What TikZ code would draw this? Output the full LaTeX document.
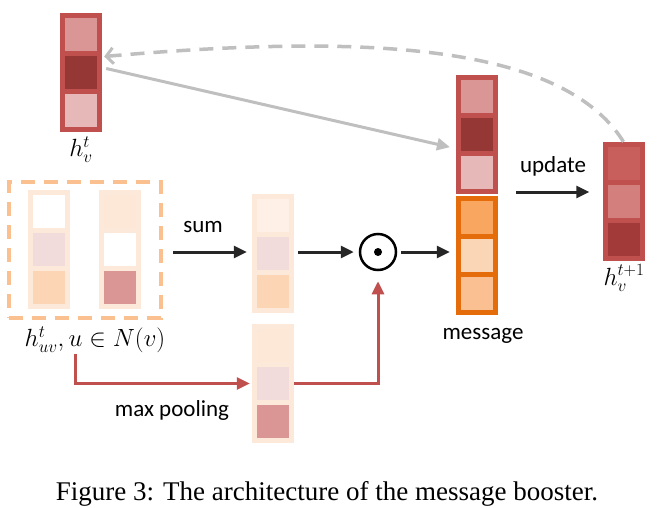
\documentclass[tikz,border=0pt]{standalone}
\usepackage[no-math]{fontspec}
\setmainfont{Liberation Serif}
\newfontfamily\lblfont{Carlito}
\usetikzlibrary{arrows.meta,calc}
\definecolor{redframe}{HTML}{C0504D}
\definecolor{orframe}{HTML}{E46C0A}
\definecolor{lightframe}{HTML}{FDE9D9}
\definecolor{rA}{HTML}{D99694}
\definecolor{rB}{HTML}{953735}
\definecolor{rC}{HTML}{E6B9B8}
\definecolor{nA}{HTML}{C85F5D}
\definecolor{nB}{HTML}{D27F7D}
\definecolor{nC}{HTML}{A13A38}
\definecolor{oA}{HTML}{F9A660}
\definecolor{oB}{HTML}{FBD6B6}
\definecolor{oC}{HTML}{FAC091}
\definecolor{lav}{HTML}{F2DCDB}
\definecolor{peach}{HTML}{FCD5B4}
\definecolor{pale}{HTML}{FEF0E6}
\definecolor{paleB}{HTML}{FDE8D8}
\definecolor{dashc}{HTML}{FAC090}
\definecolor{grayc}{HTML}{BFBFBF}
\definecolor{arrowc}{HTML}{262626}
\tikzset{
  vecframe/.style={rectangle, inner sep=0pt, minimum width=42pt, minimum height=119pt, draw=none},
  cell/.style={rectangle, inner sep=0pt, minimum width=32pt, minimum height=33pt, draw=none},
  lbl/.style={font=\lblfont\fontsize{23}{27}\selectfont, inner sep=0pt},
  mlbl/.style={font=\fontsize{23}{27}\selectfont, inner sep=0pt},
  blk/.style={draw=arrowc, line width=3pt, -{Triangle[length=13pt,width=12pt]}},
  redarr/.style={draw=redframe, line width=3pt, -{Triangle[length=13pt,width=12pt]}},
}
\newcommand\drawvec[7]{%
  \node[vecframe, fill=#4] (#1) at (#2, #3+59.5) {};
  \node[cell, fill=#5] (#1-1) at (#2, #3+21.5) {};
  \node[cell, fill=#6] (#1-2) at (#2, #3+59.5) {};
  \node[cell, fill=#7] (#1-3) at (#2, #3+97.5) {};
}
\begin{document}
\begin{tikzpicture}[x=1pt, y=-1pt]
\useasboundingbox (0,0) rectangle (665,507);
% vectors
\drawvec{hv}{81}{13}{redframe}{rA}{rB}{rC}
\drawvec{msgtop}{477}{75}{redframe}{rA}{rB}{rC}
\drawvec{msgbot}{477}{196}{orframe}{oA}{oB}{oC}
\drawvec{hnext}{623.5}{142}{redframe}{nA}{nB}{nC}
\drawvec{none}{48.5}{190}{lightframe}{white}{lav}{peach}
\drawvec{ntwo}{120}{190}{lightframe}{paleB}{white}{rA}
\drawvec{sumv}{273}{194}{lightframe}{pale}{lav}{peach}
\drawvec{maxv}{273}{324}{lightframe}{paleB}{lav}{rA}
% dashed neighbour box
\node[draw=dashc, line width=4pt, dash pattern=on 14pt off 9pt, minimum width=152pt, minimum height=136pt, inner sep=0pt] (dbox) at (85,250) {};
% odot
\node[circle, draw=black, line width=2.5pt, minimum size=36pt, inner sep=0pt] (odot) at (378,252) {};
\fill[black] (odot.center) circle (4pt);
% labels
\node[mlbl] (lhv) at (81,150) {$h_v^t$};
\node[mlbl] (huv) at (95,340) {$h_{uv}^t, u\in N(v)$};
\node[mlbl] (lhnext) at (624,278) {$h_v^{t+1}$};
\node[lbl] (lsum) at (203,227) {sum};
\node[lbl] (lmax) at (172,410) {max pooling};
\node[lbl] (lmsg) at (483,336) {message};
\node[lbl] (lupd) at (553,166) {update};
\node[font=\fontsize{27}{32}\selectfont, inner sep=0pt, anchor=base] (cap) at (327,500) {Figure 3: The architecture of the message booster.};
% connectors
\draw[blk, shorten <=10pt, shorten >=5pt] ([yshift=-2pt]dbox.east) -- ([yshift=-2pt]dbox.east -| sumv.west);
\draw[blk, shorten <=4pt, shorten >=5pt] ([yshift=1.5pt]sumv.east) -- (odot.west);
\draw[blk, shorten <=4pt, shorten >=6pt] (odot.east) -- (odot.east -| msgbot.west);
\coordinate (u1) at (516,192);
\draw[blk, shorten >=13pt] (u1) -- (u1 -| hnext.west);
\draw[draw=grayc, line width=3pt, -{Triangle[length=13pt,width=12pt]}, shorten >=6pt] ([xshift=4pt,yshift=4pt]hv.east) -- ([yshift=-14pt]msgtop.west);
\draw[draw=grayc, line width=3.5pt, dash pattern=on 14pt off 9pt, -{Straight Barb[length=7pt,width=16pt,line width=3pt]}] (hnext.north) .. controls (560,40) and (350,35) .. ([xshift=2pt,yshift=16pt]hv.east);
\coordinate (r0) at (75,354);
\draw[redarr, shorten >=2pt] (r0) |- (maxv.west);
\draw[redarr, shorten >=10pt] (maxv.east) -| (odot.south);
\end{tikzpicture}
\end{document}
